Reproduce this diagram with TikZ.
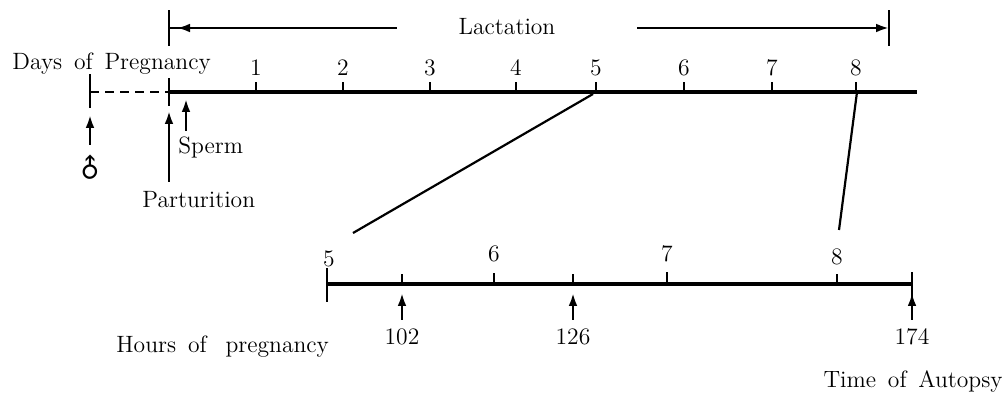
\documentclass[tikz,border=0pt]{standalone}
\usepackage{fontspec}
\newfontfamily\symfont{DejaVu Sans}
\newcommand\widespace{\spaceskip=0.5em plus 0.1em\relax}
\usetikzlibrary{arrows.meta}
\begin{document}
\begin{tikzpicture}[x=0.5pt,y=-0.5pt,
  txt/.style={inner sep=0pt,anchor=base,font=\fontsize{11.8}{13}\selectfont,execute at begin node=\widespace},
  axis/.style={line width=1.6pt},
  tick/.style={line width=1.1pt},
  bar/.style={line width=1.1pt},
  up/.style={line width=1.2pt,-{Latex[length=6.5pt,width=4.4pt]}},
  lead/.style={line width=1.1pt},
  dashline/.style={line width=1.4pt,dash pattern=on 4.5pt off 3pt}]
\useasboundingbox (0,0) rectangle (1004,394);
% Lactation
\coordinate (lacL) at (169,28);
\coordinate (lacLe) at (397,28);
\coordinate (lacLtip) at (177,28);
\coordinate (lacLtail) at (197,28);
\coordinate (lacR) at (889,28);
\coordinate (lacRs) at (637,28);
\draw[bar] ([yshift=-9]lacL) -- ([yshift=9]lacL);
\draw[bar] ([yshift=-9]lacR) -- ([yshift=9]lacR);
\draw[lead] (lacL) -- (lacLe);
\draw[up] (lacLtail) -- (lacLtip);
\draw[up] (lacRs) -- (lacR);
\node[txt] (lac) at (507,35) {Lactation};
% Days axis
\coordinate (d0) at (90,92);
\coordinate (p) at (169,92);
\coordinate (dend) at (917,92);
\draw[dashline] (d0) -- (p);
\draw[axis] (p) -- (dend);
\draw[bar] ([yshift=-8]d0) -- ([yshift=9]d0);
\draw[bar] ([yshift=-7]p) -- ([yshift=7]p);
\node[txt,anchor=base west] (dop) at (12,70) {Days of Pregnancy};
\foreach \n/\x in {1/256,2/343,3/430,4/516,5/596,6/684,7/772,8/856}{
  \coordinate (t\n) at (\x,92);
  \draw[tick] (t\n) -- ++(0,-10);
  \node[txt] (l\n) at (\x,76) {\n};
}
% arrows below days axis
\coordinate (ma) at (90,145);
\coordinate (mt) at (90,115);
\draw[up] (ma) -- (mt);
\node[inner sep=0pt,rotate=45,font=\symfont\fontsize{13}{14}\selectfont] (male) at (90,169) {♂};
\coordinate (pa) at (169,182);
\coordinate (pt) at (169,111);
\draw[up] (pa) -- (pt);
\coordinate (sa) at (186,131);
\coordinate (st) at (186,99);
\draw[up] (sa) -- (st);
\node[txt,anchor=base west] (sperm) at (178,154) {Sperm};
\node[txt,anchor=base west] (part) at (142,208) {Parturition};
% lower axis
\coordinate (h0) at (327,284);
\coordinate (hend) at (912,284);
\draw[axis] (h0) -- (hend);
\draw[bar] ([yshift=-9]h0) -- ([yshift=8]h0);
\draw[bar] ([yshift=-9]hend) -- ([yshift=6]hend);
\node[txt] (h5) at (329,267) {5};
\foreach \n/\x/\ty/\ly in {6/494/-11/262,7/667/-12/262,8/837/-10/265}{
  \coordinate (u\n) at (\x,284);
  \draw[tick] (u\n) -- ++(0,\ty);
  \node[txt] (hl\n) at (\x,\ly) {\n};
}
\foreach \n/\x in {102/402,126/573,174/912}{
  \coordinate (k\n) at (\x,284);
  \coordinate (ka\n) at (\x,320);
  \coordinate (kt\n) at (\x,293);
  \draw[up] (ka\n) -- (kt\n);
  \node[txt] (kl\n) at (\x,344) {\n};
}
\draw[tick] (k102) -- ++(0,-10);
\draw[tick] (k126) -- ++(0,-10);
\node[txt,anchor=base west] (hop) at (116,352) {Hours of\hspace{0.8em}pregnancy};
\node[txt,anchor=base east] (toa) at (1003,387) {Time of Autopsy};
% connecting lines
\coordinate (c5a) at (593,94);
\coordinate (c5b) at (353,233);
\coordinate (c8a) at (857,92);
\coordinate (c8b) at (839,230);
\draw[lead] (c5a) -- (c5b);
\draw[lead] (c8a) -- (c8b);
\end{tikzpicture}
\end{document}
